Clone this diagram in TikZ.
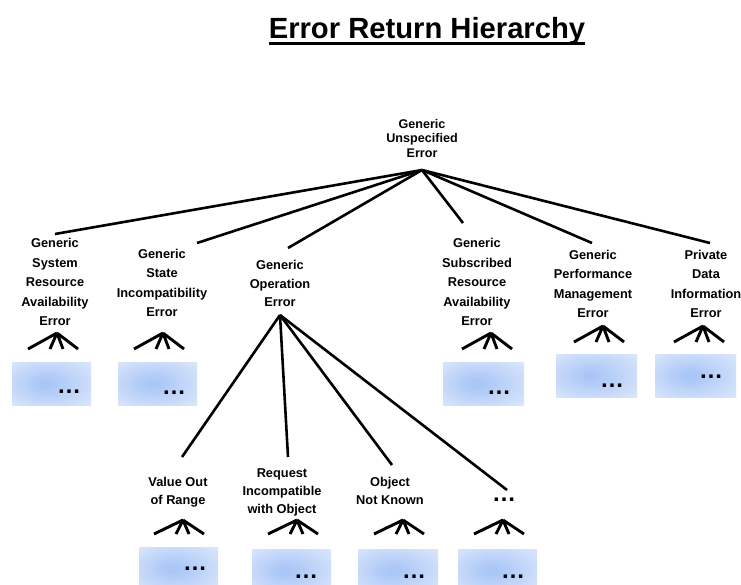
\documentclass[tikz,border=0pt]{standalone}
\usepackage{fontspec}
\setmainfont{Liberation Sans}
\usetikzlibrary{calc}

\definecolor{boxedge}{RGB}{226,234,252}
\definecolor{boxmid}{RGB}{170,199,247}
\pgfdeclareradialshading{boxglow}{\pgfpoint{-4bp}{0bp}}{%
  color(0bp)=(boxmid); color(4bp)=(boxmid); color(40bp)=(boxedge); color(50bp)=(boxedge)}

\tikzset{
  heading/.style={font=\bfseries\fontsize{29.2}{34}\selectfont, inner sep=0pt, anchor=base},
  lbl/.style={font=\bfseries\fontsize{12.8}{19.5}\selectfont, align=center, inner sep=0pt},
  rootlbl/.style={lbl, font=\bfseries\fontsize{12.6}{14.5}\selectfont},
  oplbl/.style={lbl, font=\bfseries\fontsize{12.8}{18.5}\selectfont},
  leaflbl/.style={lbl, font=\bfseries\fontsize{12.8}{18}\selectfont},
  link/.style={line width=2.6pt},
  fanleg/.style={line width=2.9pt},
  glowbox/.style={shading=boxglow},
  more/.style={font=\bfseries\fontsize{24}{24}\selectfont, inner sep=0pt},
}

% four short legs hanging below a label
\newcommand\legsbelow[2]{%
  \draw[fanleg] (#1) -- ++(-29,#2) (#1) -- ++(-7,#2) (#1) -- ++(6,#2) (#1) -- ++(21,#2);}

\begin{document}
\begin{tikzpicture}[x=1pt,y=-1pt]
\useasboundingbox (0,0) rectangle (741,584);
\clip (0,0) rectangle (741,584);
\fill[white] (0,0) rectangle (741,584);

% heading
\node[heading] (title) at (427,38) {Error Return Hierarchy};
\draw[line width=2.8pt] ($(title.base west)+(0,5.5)$) -- ($(title.base east)+(0,5.5)$);

% root
\node[rootlbl] (root) at (422,138) {Generic\\Unspecified\\Error};

% first level
\node[lbl] (sysres) at (55,282) {Generic\\System\\Resource\\Availability\\Error};
\node[lbl] (state)  at (162,283) {Generic\\State\\Incompatibility\\Error};
\node[oplbl] (oper) at (280,283.5) {Generic\\Operation\\Error};
\node[lbl] (subres) at (477,282) {Generic\\Subscribed\\Resource\\Availability\\Error};
\node[lbl] (perf)   at (593,284) {Generic\\Performance\\Management\\Error};
\node[lbl] (priv)   at (706,284) {Private\\Data\\Information\\Error};

% second level under the operation error
\node[leaflbl] (range)  at (178,492) {Value Out\\of Range};
\node[leaflbl] (reqobj) at (282,492) {Request\\Incompatible\\with Object};
\node[leaflbl] (unknown) at (390,491) {Object\\Not Known};
\node[more] (others) at (504,500) {…};

% connector end points
\coordinate (rootfoot) at (422,170);
\coordinate (sysresin) at (55,234);
\coordinate (statein)  at (197,243);
\coordinate (operin)   at (288,248);
\coordinate (subresin) at (463,223);
\coordinate (perfin)   at (592,243);
\coordinate (privin)   at (710,243);

\coordinate (operfoot) at (280,315);
\coordinate (rangein)  at (182,457);
\coordinate (reqobjin) at (288,457);
\coordinate (unknownin) at (392,465);
\coordinate (othersin) at (507,490);

\draw[link] (rootfoot) -- (sysresin);
\draw[link] (rootfoot) -- (statein);
\draw[link] (rootfoot) -- (operin);
\draw[link] (rootfoot) -- (subresin);
\draw[link] (rootfoot) -- (perfin);
\draw[link] (rootfoot) -- (privin);

\draw[link] (operfoot) -- (rangein);
\draw[link] (operfoot) -- (reqobjin);
\draw[link] (operfoot) -- (unknownin);
\draw[link] (operfoot) -- (othersin);

% leg fans
\coordinate (sysresfan) at (57,333);
\coordinate (statefan)  at (163,333);
\coordinate (subresfan) at (491,333);
\coordinate (perffan)   at (603,326);
\coordinate (privfan)   at (703,326);
\coordinate (rangefan)  at (183,520);
\coordinate (reqobjfan) at (297,520);
\coordinate (unknownfan) at (403,520);
\coordinate (othersfan) at (503,520);
\legsbelow{sysresfan}{16}
\legsbelow{statefan}{16}
\legsbelow{subresfan}{16}
\legsbelow{perffan}{16}
\legsbelow{privfan}{16}
\legsbelow{rangefan}{14}
\legsbelow{reqobjfan}{14}
\legsbelow{unknownfan}{14}
\legsbelow{othersfan}{14}

% shaded placeholder boxes
\shade[glowbox] (12,362) rectangle (91,405);
\shade[glowbox] (118,362) rectangle (197,405);
\shade[glowbox] (443,362) rectangle (524,405);
\shade[glowbox] (556,354) rectangle (637,397);
\shade[glowbox] (655,354) rectangle (736,397);
\shade[glowbox] (139,547) rectangle (218,590);
\shade[glowbox] (252,549) rectangle (331,592);
\shade[glowbox] (358,549) rectangle (438,592);
\shade[glowbox] (458,549) rectangle (537,592);

\node[more] (sysresmore) at (69,392) {…};
\node[more] (statemore)  at (174,393) {…};
\node[more] (subresmore) at (499,393) {…};
\node[more] (perfmore)   at (612,386) {…};
\node[more] (privmore)   at (711,377) {…};
\node[more] (rangemore)  at (195,569) {…};
\node[more] (reqobjmore) at (306,577) {…};
\node[more] (unknownmore) at (414,577) {…};
\node[more] (othersmore) at (513,577) {…};
\end{tikzpicture}
\end{document}
